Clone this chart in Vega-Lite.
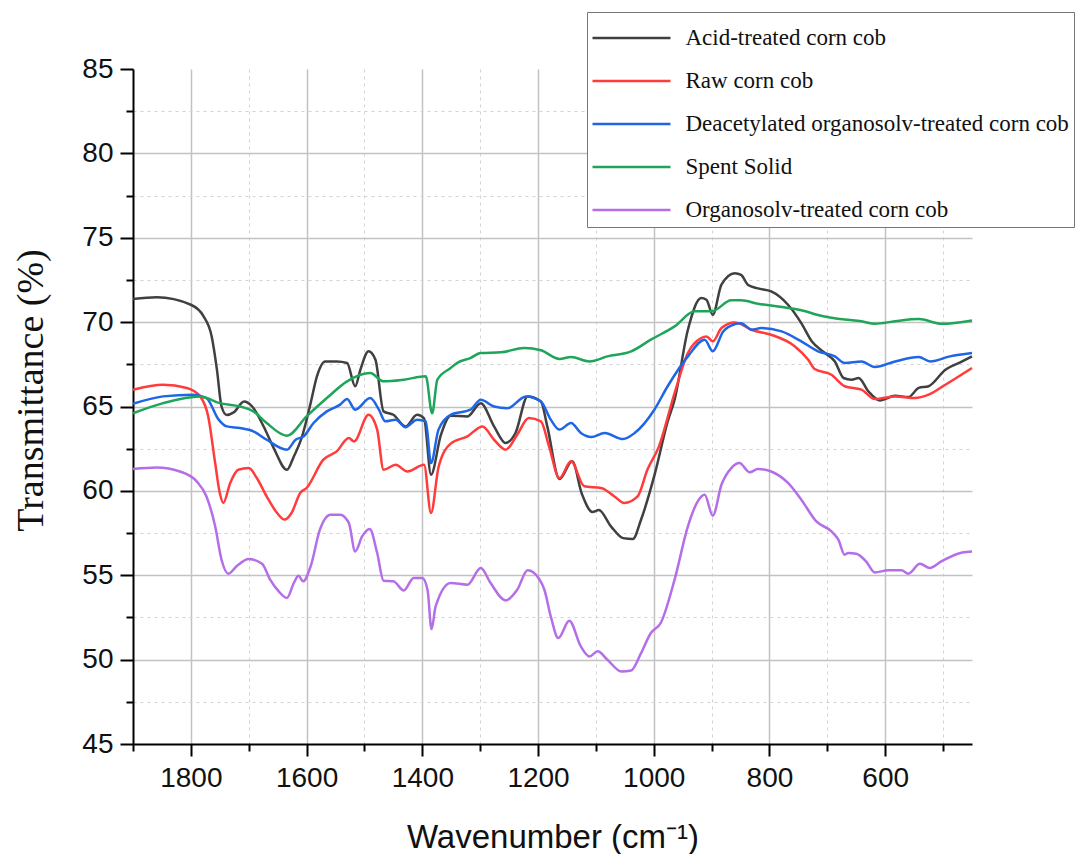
{
  "$schema": "https://vega.github.io/schema/vega-lite/v6.json",
  "width": 839,
  "height": 675,
  "autosize": {"type": "none"},
  "padding": {"left": 133, "top": 69, "right": 109, "bottom": 110},
  "background": "white",
  "view": {"stroke": null},
  "data": {
    "values": [
      {"s":"Acid-treated corn cob","w":1900,"t":71.37},{"s":"Acid-treated corn cob","w":1859,"t":71.47},{"s":"Acid-treated corn cob","w":1800,"t":71.03},{"s":"Acid-treated corn cob","w":1778,"t":70.34},{"s":"Acid-treated corn cob","w":1764,"t":69.15},{"s":"Acid-treated corn cob","w":1755,"t":67.2},{"s":"Acid-treated corn cob","w":1747,"t":65.0},{"s":"Acid-treated corn cob","w":1738,"t":64.5},{"s":"Acid-treated corn cob","w":1726,"t":64.65},{"s":"Acid-treated corn cob","w":1708,"t":65.3},{"s":"Acid-treated corn cob","w":1694,"t":65.0},{"s":"Acid-treated corn cob","w":1674,"t":63.8},{"s":"Acid-treated corn cob","w":1657,"t":62.55},{"s":"Acid-treated corn cob","w":1634,"t":61.25},{"s":"Acid-treated corn cob","w":1622,"t":62.04},{"s":"Acid-treated corn cob","w":1608,"t":63.2},{"s":"Acid-treated corn cob","w":1593,"t":65.2},{"s":"Acid-treated corn cob","w":1582,"t":66.8},{"s":"Acid-treated corn cob","w":1568,"t":67.67},{"s":"Acid-treated corn cob","w":1548,"t":67.67},{"s":"Acid-treated corn cob","w":1530,"t":67.58},{"s":"Acid-treated corn cob","w":1516,"t":66.2},{"s":"Acid-treated corn cob","w":1507,"t":67.18},{"s":"Acid-treated corn cob","w":1493,"t":68.27},{"s":"Acid-treated corn cob","w":1481,"t":67.77},{"s":"Acid-treated corn cob","w":1467,"t":64.71},{"s":"Acid-treated corn cob","w":1450,"t":64.51},{"s":"Acid-treated corn cob","w":1429,"t":63.82},{"s":"Acid-treated corn cob","w":1409,"t":64.51},{"s":"Acid-treated corn cob","w":1397,"t":64.3},{"s":"Acid-treated corn cob","w":1385,"t":60.96},{"s":"Acid-treated corn cob","w":1368,"t":63.3},{"s":"Acid-treated corn cob","w":1351,"t":64.45},{"s":"Acid-treated corn cob","w":1322,"t":64.41},{"s":"Acid-treated corn cob","w":1299,"t":65.2},{"s":"Acid-treated corn cob","w":1276,"t":63.82},{"s":"Acid-treated corn cob","w":1256,"t":62.84},{"s":"Acid-treated corn cob","w":1239,"t":63.43},{"s":"Acid-treated corn cob","w":1218,"t":65.6},{"s":"Acid-treated corn cob","w":1195,"t":65.3},{"s":"Acid-treated corn cob","w":1184,"t":63.82},{"s":"Acid-treated corn cob","w":1163,"t":60.7},{"s":"Acid-treated corn cob","w":1141,"t":61.75},{"s":"Acid-treated corn cob","w":1124,"t":59.8},{"s":"Acid-treated corn cob","w":1106,"t":58.75},{"s":"Acid-treated corn cob","w":1095,"t":58.86},{"s":"Acid-treated corn cob","w":1074,"t":57.9},{"s":"Acid-treated corn cob","w":1053,"t":57.2},{"s":"Acid-treated corn cob","w":1036,"t":57.15},{"s":"Acid-treated corn cob","w":1022,"t":58.29},{"s":"Acid-treated corn cob","w":999,"t":60.9},{"s":"Acid-treated corn cob","w":976,"t":64.1},{"s":"Acid-treated corn cob","w":964,"t":65.4},{"s":"Acid-treated corn cob","w":941,"t":69.55},{"s":"Acid-treated corn cob","w":918,"t":71.43},{"s":"Acid-treated corn cob","w":909,"t":71.33},{"s":"Acid-treated corn cob","w":898,"t":70.44},{"s":"Acid-treated corn cob","w":883,"t":72.22},{"s":"Acid-treated corn cob","w":860,"t":72.9},{"s":"Acid-treated corn cob","w":849,"t":72.8},{"s":"Acid-treated corn cob","w":837,"t":72.2},{"s":"Acid-treated corn cob","w":820,"t":72.0},{"s":"Acid-treated corn cob","w":797,"t":71.82},{"s":"Acid-treated corn cob","w":768,"t":71.03},{"s":"Acid-treated corn cob","w":745,"t":69.94},{"s":"Acid-treated corn cob","w":727,"t":68.86},{"s":"Acid-treated corn cob","w":704,"t":68.17},{"s":"Acid-treated corn cob","w":687,"t":67.67},{"s":"Acid-treated corn cob","w":672,"t":66.69},{"s":"Acid-treated corn cob","w":658,"t":66.59},{"s":"Acid-treated corn cob","w":646,"t":66.69},{"s":"Acid-treated corn cob","w":629,"t":65.9},{"s":"Acid-treated corn cob","w":609,"t":65.36},{"s":"Acid-treated corn cob","w":583,"t":65.64},{"s":"Acid-treated corn cob","w":560,"t":65.56},{"s":"Acid-treated corn cob","w":542,"t":66.1},{"s":"Acid-treated corn cob","w":525,"t":66.2},{"s":"Acid-treated corn cob","w":496,"t":67.18},{"s":"Acid-treated corn cob","w":467,"t":67.67},{"s":"Acid-treated corn cob","w":450,"t":67.97},

      {"s":"Raw corn cob","w":1900,"t":65.99},{"s":"Raw corn cob","w":1848,"t":66.29},{"s":"Raw corn cob","w":1807,"t":66.1},{"s":"Raw corn cob","w":1784,"t":65.6},{"s":"Raw corn cob","w":1770,"t":64.41},{"s":"Raw corn cob","w":1758,"t":61.65},{"s":"Raw corn cob","w":1750,"t":59.87},{"s":"Raw corn cob","w":1744,"t":59.28},{"s":"Raw corn cob","w":1732,"t":60.47},{"s":"Raw corn cob","w":1718,"t":61.25},{"s":"Raw corn cob","w":1700,"t":61.35},{"s":"Raw corn cob","w":1686,"t":60.76},{"s":"Raw corn cob","w":1669,"t":59.67},{"s":"Raw corn cob","w":1651,"t":58.69},{"s":"Raw corn cob","w":1638,"t":58.3},{"s":"Raw corn cob","w":1626,"t":58.69},{"s":"Raw corn cob","w":1611,"t":59.87},{"s":"Raw corn cob","w":1600,"t":60.17},{"s":"Raw corn cob","w":1571,"t":61.85},{"s":"Raw corn cob","w":1548,"t":62.34},{"s":"Raw corn cob","w":1527,"t":63.13},{"s":"Raw corn cob","w":1518,"t":62.93},{"s":"Raw corn cob","w":1493,"t":64.51},{"s":"Raw corn cob","w":1478,"t":63.63},{"s":"Raw corn cob","w":1467,"t":61.25},{"s":"Raw corn cob","w":1446,"t":61.55},{"s":"Raw corn cob","w":1426,"t":61.15},{"s":"Raw corn cob","w":1397,"t":61.55},{"s":"Raw corn cob","w":1385,"t":58.69},{"s":"Raw corn cob","w":1372,"t":61.4},{"s":"Raw corn cob","w":1351,"t":62.8},{"s":"Raw corn cob","w":1322,"t":63.23},{"s":"Raw corn cob","w":1296,"t":63.82},{"s":"Raw corn cob","w":1276,"t":63.03},{"s":"Raw corn cob","w":1256,"t":62.44},{"s":"Raw corn cob","w":1236,"t":63.33},{"s":"Raw corn cob","w":1216,"t":64.32},{"s":"Raw corn cob","w":1195,"t":64.12},{"s":"Raw corn cob","w":1181,"t":62.64},{"s":"Raw corn cob","w":1163,"t":60.76},{"s":"Raw corn cob","w":1143,"t":61.75},{"s":"Raw corn cob","w":1120,"t":60.27},{"s":"Raw corn cob","w":1091,"t":60.17},{"s":"Raw corn cob","w":1068,"t":59.67},{"s":"Raw corn cob","w":1051,"t":59.28},{"s":"Raw corn cob","w":1028,"t":59.67},{"s":"Raw corn cob","w":1011,"t":61.25},{"s":"Raw corn cob","w":991,"t":62.64},{"s":"Raw corn cob","w":964,"t":65.8},{"s":"Raw corn cob","w":941,"t":68.17},{"s":"Raw corn cob","w":918,"t":69.06},{"s":"Raw corn cob","w":909,"t":69.15},{"s":"Raw corn cob","w":898,"t":68.86},{"s":"Raw corn cob","w":883,"t":69.65},{"s":"Raw corn cob","w":860,"t":69.98},{"s":"Raw corn cob","w":854,"t":69.94},{"s":"Raw corn cob","w":831,"t":69.55},{"s":"Raw corn cob","w":797,"t":69.25},{"s":"Raw corn cob","w":756,"t":68.56},{"s":"Raw corn cob","w":733,"t":67.77},{"s":"Raw corn cob","w":722,"t":67.22},{"s":"Raw corn cob","w":693,"t":66.88},{"s":"Raw corn cob","w":670,"t":66.2},{"s":"Raw corn cob","w":641,"t":66.0},{"s":"Raw corn cob","w":618,"t":65.44},{"s":"Raw corn cob","w":583,"t":65.6},{"s":"Raw corn cob","w":549,"t":65.5},{"s":"Raw corn cob","w":525,"t":65.7},{"s":"Raw corn cob","w":496,"t":66.29},{"s":"Raw corn cob","w":450,"t":67.28},

      {"s":"Deacetylated organosolv-treated corn cob","w":1900,"t":65.16},{"s":"Deacetylated organosolv-treated corn cob","w":1848,"t":65.6},{"s":"Deacetylated organosolv-treated corn cob","w":1796,"t":65.7},{"s":"Deacetylated organosolv-treated corn cob","w":1773,"t":65.5},{"s":"Deacetylated organosolv-treated corn cob","w":1752,"t":64.22},{"s":"Deacetylated organosolv-treated corn cob","w":1738,"t":63.82},{"s":"Deacetylated organosolv-treated corn cob","w":1715,"t":63.72},{"s":"Deacetylated organosolv-treated corn cob","w":1692,"t":63.53},{"s":"Deacetylated organosolv-treated corn cob","w":1669,"t":63.03},{"s":"Deacetylated organosolv-treated corn cob","w":1634,"t":62.44},{"s":"Deacetylated organosolv-treated corn cob","w":1619,"t":63.03},{"s":"Deacetylated organosolv-treated corn cob","w":1605,"t":63.23},{"s":"Deacetylated organosolv-treated corn cob","w":1588,"t":64.02},{"s":"Deacetylated organosolv-treated corn cob","w":1565,"t":64.71},{"s":"Deacetylated organosolv-treated corn cob","w":1542,"t":65.11},{"s":"Deacetylated organosolv-treated corn cob","w":1530,"t":65.44},{"s":"Deacetylated organosolv-treated corn cob","w":1516,"t":64.81},{"s":"Deacetylated organosolv-treated corn cob","w":1490,"t":65.5},{"s":"Deacetylated organosolv-treated corn cob","w":1475,"t":64.81},{"s":"Deacetylated organosolv-treated corn cob","w":1464,"t":64.12},{"s":"Deacetylated organosolv-treated corn cob","w":1446,"t":64.22},{"s":"Deacetylated organosolv-treated corn cob","w":1429,"t":63.77},{"s":"Deacetylated organosolv-treated corn cob","w":1409,"t":64.22},{"s":"Deacetylated organosolv-treated corn cob","w":1394,"t":64.12},{"s":"Deacetylated organosolv-treated corn cob","w":1385,"t":61.65},{"s":"Deacetylated organosolv-treated corn cob","w":1372,"t":63.63},{"s":"Deacetylated organosolv-treated corn cob","w":1351,"t":64.51},{"s":"Deacetylated organosolv-treated corn cob","w":1317,"t":64.81},{"s":"Deacetylated organosolv-treated corn cob","w":1299,"t":65.4},{"s":"Deacetylated organosolv-treated corn cob","w":1276,"t":65.0},{"s":"Deacetylated organosolv-treated corn cob","w":1253,"t":64.9},{"s":"Deacetylated organosolv-treated corn cob","w":1221,"t":65.6},{"s":"Deacetylated organosolv-treated corn cob","w":1195,"t":65.3},{"s":"Deacetylated organosolv-treated corn cob","w":1178,"t":64.22},{"s":"Deacetylated organosolv-treated corn cob","w":1163,"t":63.63},{"s":"Deacetylated organosolv-treated corn cob","w":1143,"t":64.02},{"s":"Deacetylated organosolv-treated corn cob","w":1126,"t":63.43},{"s":"Deacetylated organosolv-treated corn cob","w":1108,"t":63.19},{"s":"Deacetylated organosolv-treated corn cob","w":1085,"t":63.43},{"s":"Deacetylated organosolv-treated corn cob","w":1053,"t":63.07},{"s":"Deacetylated organosolv-treated corn cob","w":1033,"t":63.43},{"s":"Deacetylated organosolv-treated corn cob","w":999,"t":64.81},{"s":"Deacetylated organosolv-treated corn cob","w":976,"t":66.2},{"s":"Deacetylated organosolv-treated corn cob","w":941,"t":67.97},{"s":"Deacetylated organosolv-treated corn cob","w":912,"t":68.96},{"s":"Deacetylated organosolv-treated corn cob","w":898,"t":68.27},{"s":"Deacetylated organosolv-treated corn cob","w":880,"t":69.45},{"s":"Deacetylated organosolv-treated corn cob","w":860,"t":69.88},{"s":"Deacetylated organosolv-treated corn cob","w":849,"t":69.94},{"s":"Deacetylated organosolv-treated corn cob","w":831,"t":69.55},{"s":"Deacetylated organosolv-treated corn cob","w":814,"t":69.65},{"s":"Deacetylated organosolv-treated corn cob","w":779,"t":69.45},{"s":"Deacetylated organosolv-treated corn cob","w":745,"t":68.86},{"s":"Deacetylated organosolv-treated corn cob","w":716,"t":68.27},{"s":"Deacetylated organosolv-treated corn cob","w":687,"t":67.97},{"s":"Deacetylated organosolv-treated corn cob","w":670,"t":67.58},{"s":"Deacetylated organosolv-treated corn cob","w":641,"t":67.67},{"s":"Deacetylated organosolv-treated corn cob","w":618,"t":67.34},{"s":"Deacetylated organosolv-treated corn cob","w":583,"t":67.67},{"s":"Deacetylated organosolv-treated corn cob","w":542,"t":67.93},{"s":"Deacetylated organosolv-treated corn cob","w":522,"t":67.67},{"s":"Deacetylated organosolv-treated corn cob","w":488,"t":67.97},{"s":"Deacetylated organosolv-treated corn cob","w":450,"t":68.17},

      {"s":"Spent Solid","w":1900,"t":64.6},{"s":"Spent Solid","w":1848,"t":65.2},{"s":"Spent Solid","w":1784,"t":65.6},{"s":"Spent Solid","w":1750,"t":65.2},{"s":"Spent Solid","w":1715,"t":65.0},{"s":"Spent Solid","w":1692,"t":64.71},{"s":"Spent Solid","w":1669,"t":64.02},{"s":"Spent Solid","w":1634,"t":63.27},{"s":"Spent Solid","w":1600,"t":64.41},{"s":"Spent Solid","w":1565,"t":65.5},{"s":"Spent Solid","w":1530,"t":66.49},{"s":"Spent Solid","w":1490,"t":66.98},{"s":"Spent Solid","w":1467,"t":66.49},{"s":"Spent Solid","w":1432,"t":66.59},{"s":"Spent Solid","w":1394,"t":66.79},{"s":"Spent Solid","w":1383,"t":64.6},{"s":"Spent Solid","w":1374,"t":66.59},{"s":"Spent Solid","w":1351,"t":67.28},{"s":"Spent Solid","w":1340,"t":67.58},{"s":"Spent Solid","w":1317,"t":67.87},{"s":"Spent Solid","w":1299,"t":68.17},{"s":"Spent Solid","w":1264,"t":68.21},{"s":"Spent Solid","w":1224,"t":68.47},{"s":"Spent Solid","w":1195,"t":68.33},{"s":"Spent Solid","w":1163,"t":67.82},{"s":"Spent Solid","w":1143,"t":67.93},{"s":"Spent Solid","w":1111,"t":67.67},{"s":"Spent Solid","w":1080,"t":67.97},{"s":"Spent Solid","w":1039,"t":68.27},{"s":"Spent Solid","w":1005,"t":68.96},{"s":"Spent Solid","w":964,"t":69.75},{"s":"Spent Solid","w":929,"t":70.64},{"s":"Spent Solid","w":900,"t":70.64},{"s":"Spent Solid","w":866,"t":71.29},{"s":"Spent Solid","w":849,"t":71.29},{"s":"Spent Solid","w":820,"t":71.09},{"s":"Spent Solid","w":785,"t":70.93},{"s":"Spent Solid","w":745,"t":70.7},{"s":"Spent Solid","w":711,"t":70.38},{"s":"Spent Solid","w":670,"t":70.15},{"s":"Spent Solid","w":641,"t":70.05},{"s":"Spent Solid","w":618,"t":69.9},{"s":"Spent Solid","w":583,"t":70.05},{"s":"Spent Solid","w":542,"t":70.18},{"s":"Spent Solid","w":502,"t":69.9},{"s":"Spent Solid","w":450,"t":70.1},

      {"s":"Organosolv-treated corn cob","w":1900,"t":61.3},{"s":"Organosolv-treated corn cob","w":1859,"t":61.39},{"s":"Organosolv-treated corn cob","w":1819,"t":61.15},{"s":"Organosolv-treated corn cob","w":1790,"t":60.56},{"s":"Organosolv-treated corn cob","w":1773,"t":59.67},{"s":"Organosolv-treated corn cob","w":1758,"t":57.9},{"s":"Organosolv-treated corn cob","w":1747,"t":55.92},{"s":"Organosolv-treated corn cob","w":1735,"t":55.09},{"s":"Organosolv-treated corn cob","w":1721,"t":55.53},{"s":"Organosolv-treated corn cob","w":1700,"t":55.96},{"s":"Organosolv-treated corn cob","w":1677,"t":55.68},{"s":"Organosolv-treated corn cob","w":1663,"t":54.74},{"s":"Organosolv-treated corn cob","w":1648,"t":54.04},{"s":"Organosolv-treated corn cob","w":1634,"t":53.65},{"s":"Organosolv-treated corn cob","w":1622,"t":54.54},{"s":"Organosolv-treated corn cob","w":1614,"t":54.97},{"s":"Organosolv-treated corn cob","w":1606,"t":54.64},{"s":"Organosolv-treated corn cob","w":1593,"t":55.53},{"s":"Organosolv-treated corn cob","w":1577,"t":57.7},{"s":"Organosolv-treated corn cob","w":1559,"t":58.59},{"s":"Organosolv-treated corn cob","w":1542,"t":58.59},{"s":"Organosolv-treated corn cob","w":1527,"t":58.1},{"s":"Organosolv-treated corn cob","w":1516,"t":56.41},{"s":"Organosolv-treated corn cob","w":1504,"t":57.3},{"s":"Organosolv-treated corn cob","w":1491,"t":57.74},{"s":"Organosolv-treated corn cob","w":1478,"t":56.32},{"s":"Organosolv-treated corn cob","w":1467,"t":54.68},{"s":"Organosolv-treated corn cob","w":1450,"t":54.64},{"s":"Organosolv-treated corn cob","w":1432,"t":54.1},{"s":"Organosolv-treated corn cob","w":1415,"t":54.84},{"s":"Organosolv-treated corn cob","w":1400,"t":54.84},{"s":"Organosolv-treated corn cob","w":1391,"t":54.14},{"s":"Organosolv-treated corn cob","w":1384,"t":51.81},{"s":"Organosolv-treated corn cob","w":1377,"t":53.15},{"s":"Organosolv-treated corn cob","w":1351,"t":54.54},{"s":"Organosolv-treated corn cob","w":1322,"t":54.44},{"s":"Organosolv-treated corn cob","w":1299,"t":55.43},{"s":"Organosolv-treated corn cob","w":1282,"t":54.54},{"s":"Organosolv-treated corn cob","w":1256,"t":53.51},{"s":"Organosolv-treated corn cob","w":1236,"t":54.14},{"s":"Organosolv-treated corn cob","w":1218,"t":55.29},{"s":"Organosolv-treated corn cob","w":1198,"t":54.78},{"s":"Organosolv-treated corn cob","w":1189,"t":54.14},{"s":"Organosolv-treated corn cob","w":1178,"t":52.56},{"s":"Organosolv-treated corn cob","w":1165,"t":51.28},{"s":"Organosolv-treated corn cob","w":1146,"t":52.3},{"s":"Organosolv-treated corn cob","w":1126,"t":50.78},{"s":"Organosolv-treated corn cob","w":1111,"t":50.19},{"s":"Organosolv-treated corn cob","w":1097,"t":50.49},{"s":"Organosolv-treated corn cob","w":1080,"t":49.99},{"s":"Organosolv-treated corn cob","w":1056,"t":49.3},{"s":"Organosolv-treated corn cob","w":1039,"t":49.36},{"s":"Organosolv-treated corn cob","w":1022,"t":50.39},{"s":"Organosolv-treated corn cob","w":1005,"t":51.58},{"s":"Organosolv-treated corn cob","w":988,"t":52.17},{"s":"Organosolv-treated corn cob","w":964,"t":54.74},{"s":"Organosolv-treated corn cob","w":941,"t":57.9},{"s":"Organosolv-treated corn cob","w":924,"t":59.38},{"s":"Organosolv-treated corn cob","w":912,"t":59.77},{"s":"Organosolv-treated corn cob","w":898,"t":58.53},{"s":"Organosolv-treated corn cob","w":883,"t":60.36},{"s":"Organosolv-treated corn cob","w":866,"t":61.35},{"s":"Organosolv-treated corn cob","w":852,"t":61.65},{"s":"Organosolv-treated corn cob","w":834,"t":61.1},{"s":"Organosolv-treated corn cob","w":820,"t":61.3},{"s":"Organosolv-treated corn cob","w":797,"t":61.15},{"s":"Organosolv-treated corn cob","w":768,"t":60.47},{"s":"Organosolv-treated corn cob","w":745,"t":59.48},{"s":"Organosolv-treated corn cob","w":719,"t":58.19},{"s":"Organosolv-treated corn cob","w":693,"t":57.6},{"s":"Organosolv-treated corn cob","w":681,"t":57.11},{"s":"Organosolv-treated corn cob","w":670,"t":56.22},{"s":"Organosolv-treated corn cob","w":664,"t":56.32},{"s":"Organosolv-treated corn cob","w":650,"t":56.28},{"s":"Organosolv-treated corn cob","w":633,"t":55.82},{"s":"Organosolv-treated corn cob","w":618,"t":55.17},{"s":"Organosolv-treated corn cob","w":595,"t":55.29},{"s":"Organosolv-treated corn cob","w":572,"t":55.29},{"s":"Organosolv-treated corn cob","w":560,"t":55.09},{"s":"Organosolv-treated corn cob","w":540,"t":55.68},{"s":"Organosolv-treated corn cob","w":523,"t":55.43},{"s":"Organosolv-treated corn cob","w":503,"t":55.82},{"s":"Organosolv-treated corn cob","w":467,"t":56.35},{"s":"Organosolv-treated corn cob","w":450,"t":56.41}
    ]
  },
  "mark": {"type": "line", "strokeWidth": 2.5, "interpolate": "monotone"},
  "encoding": {
    "x": {
      "field": "w",
      "type": "quantitative",
      "scale": {"domain": [1900, 450], "nice": false, "zero": false},
      "axis": {
        "title": "Wavenumber (cm⁻¹)",
        "values": [1900, 1800, 1700, 1600, 1500, 1400, 1300, 1200, 1100, 1000, 900, 800, 700, 600, 500],
        "format": "d",
        "labelExpr": "datum.value % 200 === 0 ? datum.label : ''",
        "labelOverlap": false,
        "labelFlush": false,
        "labelFont": "Liberation Sans",
        "labelFontSize": 28,
        "labelColor": "#111111",
        "labelPadding": 8,
        "tickSize": {"condition": {"test": "datum.value % 200 === 0", "value": 12}, "value": 7},
        "tickColor": "#000000",
        "tickWidth": 2,
        "domainColor": "#000000",
        "domainWidth": 2,
        "grid": true,
        "gridColor": {"condition": {"test": "datum.value % 200 === 0", "value": "#c2c2c2"}, "value": "#d2d2d2"},
        "gridDash": {"condition": {"test": "datum.value % 200 === 0", "value": []}, "value": [3, 4]},
        "gridWidth": {"condition": {"test": "datum.value % 200 === 0", "value": 1.5}, "value": 1},
        "titleFont": "Liberation Sans",
        "titleFontSize": 33,
        "titleFontWeight": "normal",
        "titleColor": "#111111",
        "titleBaseline": "alphabetic",
        "titleY": 103
      }
    },
    "y": {
      "field": "t",
      "type": "quantitative",
      "scale": {"domain": [45, 85], "nice": false, "zero": false},
      "axis": {
        "title": "Transmittance  (%)",
        "values": [45, 47.5, 50, 52.5, 55, 57.5, 60, 62.5, 65, 67.5, 70, 72.5, 75, 77.5, 80, 82.5, 85],
        "labelExpr": "datum.value % 5 === 0 ? datum.label : ''",
        "labelOverlap": false,
        "labelFlush": false,
        "labelFont": "Liberation Sans",
        "labelFontSize": 28,
        "labelColor": "#111111",
        "labelPadding": 7,
        "tickSize": {"condition": {"test": "datum.value % 5 === 0", "value": 13}, "value": 7},
        "tickColor": "#000000",
        "tickWidth": 2,
        "domainColor": "#000000",
        "domainWidth": 2,
        "grid": true,
        "gridColor": {"condition": {"test": "datum.value % 5 === 0", "value": "#c2c2c2"}, "value": "#d2d2d2"},
        "gridDash": {"condition": {"test": "datum.value % 5 === 0", "value": []}, "value": [3, 4]},
        "gridWidth": {"condition": {"test": "datum.value % 5 === 0", "value": 1.5}, "value": 1},
        "gridOpacity": {"condition": {"test": "datum.value === 85 || datum.value === 45", "value": 0}, "value": 1},
        "titleFont": "Liberation Serif",
        "titleFontSize": 38,
        "titleFontWeight": "normal",
        "titleColor": "#111111",
        "titleAngle": 270,
        "titleBaseline": "alphabetic",
        "titleAlign": "center",
        "titleX": -91,
        "titleY": 321
      }
    },
    "color": {
      "field": "s",
      "type": "nominal",
      "scale": {
        "domain": ["Acid-treated corn cob", "Raw corn cob", "Deacetylated organosolv-treated corn cob", "Spent Solid", "Organosolv-treated corn cob"],
        "range": ["#404040", "#ff3b3b", "#1f66e5", "#1fa55a", "#b46ee8"]
      },
      "legend": {
        "title": null,
        "orient": "none",
        "legendX": 454,
        "legendY": -57,
        "symbolType": "M-2,0H2",
        "symbolSize": 1521,
        "symbolStrokeWidth": 2.5,
        "symbolOffset": 18.5,
        "labelOffset": 33,
        "labelFont": "Liberation Serif",
        "labelFontSize": 23,
        "labelColor": "#111111",
        "labelLimit": 600,
        "rowPadding": 10,
        "padding": 5,
        "fillColor": "white",
        "strokeColor": "#777777"
      }
    },
    "order": {"field": "w", "sort": "descending"}
  }
}
